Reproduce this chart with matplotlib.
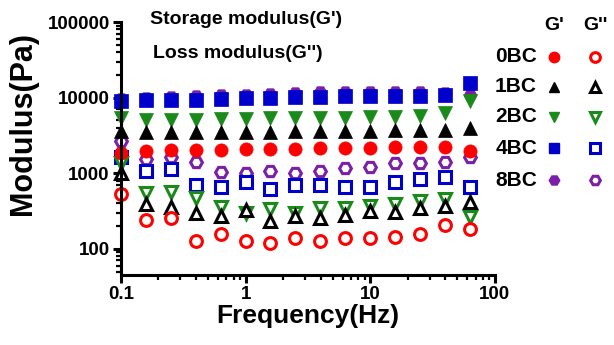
import matplotlib
matplotlib.use("Agg")
import matplotlib.pyplot as plt
from matplotlib.ticker import LogLocator, FixedLocator, NullFormatter, FixedFormatter

plt.rcParams["font.family"] = ["Liberation Sans", "DejaVu Sans"]
plt.rcParams["font.weight"] = "bold"

freq = [0.1, 0.158, 0.251, 0.398, 0.631, 1.0, 1.58, 2.51, 3.98, 6.31, 10.0, 15.8, 25.1, 39.8, 63.1]

samples = ["0BC", "1BC", "2BC", "4BC", "8BC"]
colors = {"0BC": "#ff0000", "1BC": "#000000", "2BC": "#1a8a1a", "4BC": "#0000cc", "8BC": "#7b1fa8"}
markers = {"0BC": "o", "1BC": "^", "2BC": "v", "4BC": "s", "8BC": "H"}

storage = {
    "0BC": [1870, 1990, 2000, 2000, 2050, 2080, 2100, 2100, 2150, 2150, 2180, 2200, 2250, 2250, 1990],
    "1BC": [3600, 3500, 3500, 3500, 3500, 3500, 3500, 3600, 3600, 3600, 3600, 3700, 3700, 3700, 4000],
    "2BC": [5400, 5100, 5100, 5100, 5200, 5200, 5300, 5400, 5400, 5400, 5500, 5600, 5800, 6300, 9100],
    "4BC": [9000, 9200, 9200, 9400, 9700, 9800, 10000, 10200, 10300, 10400, 10500, 10400, 10500, 10800, 15500],
    "8BC": [9500, 10000, 10200, 10400, 10800, 11000, 11300, 11500, 11700, 11800, 12000, 11800, 12000, 11500, 10800],
}
loss = {
    "0BC": [535, 240, 255, 128, 158, 125, 120, 140, 125, 140, 140, 145, 158, 208, 183],
    "1BC": [1000, 395, 360, 300, 275, 330, 235, 275, 255, 280, 320, 310, 350, 370, 420],
    "2BC": [1350, 552, 570, 474, 360, 300, 340, 300, 350, 350, 370, 395, 430, 460, 265],
    "4BC": [1650, 1080, 1150, 705, 663, 771, 624, 705, 705, 663, 663, 771, 845, 900, 663],
    "8BC": [2700, 1560, 1650, 1420, 1050, 1020, 1080, 1015, 1080, 1180, 1220, 1380, 1380, 1420, 1650],
}

fig = plt.figure(figsize=(6.14, 3.45), dpi=100)
ax = fig.add_axes([0.197, 0.203, 0.609, 0.733])

ms = 9.5
for s in ["8BC", "4BC", "2BC", "1BC", "0BC"]:
    c = colors[s]
    ax.plot(freq, storage[s], linestyle="none", marker=markers[s], ms=ms,
            color=c, markeredgecolor=c, markeredgewidth=0.5, clip_on=False)
    ax.plot(freq, loss[s], linestyle="none", marker=markers[s], ms=ms - 1,
            markerfacecolor="white", markeredgecolor=c, markeredgewidth=2.2, clip_on=False)

ax.set_xscale("log")
ax.set_yscale("log")
ax.set_xlim(0.1, 100)
ax.set_ylim(45, 100000)

for side in ["top", "right"]:
    ax.spines[side].set_visible(False)
for side in ["left", "bottom"]:
    ax.spines[side].set_linewidth(2.2)

ax.xaxis.set_major_locator(FixedLocator([0.1, 1, 10, 100]))
ax.xaxis.set_major_formatter(FixedFormatter(["0.1", "1", "10", "100"]))
ax.xaxis.set_minor_locator(LogLocator(base=10, subs=range(2, 10)))
ax.xaxis.set_minor_formatter(NullFormatter())
ax.yaxis.set_major_locator(FixedLocator([100, 1000, 10000, 100000]))
ax.yaxis.set_major_formatter(FixedFormatter(["100", "1000", "10000", "100000"]))
ax.yaxis.set_minor_locator(LogLocator(base=10, subs=range(2, 10)))
ax.yaxis.set_minor_formatter(NullFormatter())
ax.tick_params(which="major", direction="out", length=6, width=2.2, labelsize=13.5, pad=2)
ax.tick_params(which="minor", direction="out", length=3.5, width=1.6)
for lab in ax.get_xticklabels() + ax.get_yticklabels():
    lab.set_fontweight("bold")

ax.set_xlabel("Frequency(Hz)", fontsize=19, fontweight="bold")
ax.xaxis.set_label_coords(0.5, -0.115)
ax.set_ylabel("Modulus(Pa)", fontsize=22, fontweight="bold", va="center", ha="center")
ax.yaxis.set_label_coords(-0.262, 0.60)

# overlay in figure pixels for the annotations and the legend block
lax = fig.add_axes([0, 0, 1, 1])
lax.set_xlim(0, 614)
lax.set_ylim(345, 0)
lax.axis("off")

lax.text(150, 20, "Storage modulus(G')", fontsize=14, fontweight="bold", va="center", ha="left")
lax.text(153, 54, "Loss modulus(G'')", fontsize=14, fontweight="bold", va="center", ha="left")

col_gp, col_gpp = 554, 595
row_y = [57, 87, 117, 148, 180]
lax.text(col_gp, 25, "G'", fontsize=14, fontweight="bold", ha="center", va="center")
lax.text(col_gpp, 25, "G''", fontsize=14, fontweight="bold", ha="center", va="center")
for s, ry in zip(samples, row_y):
    c = colors[s]
    lax.text(537, ry, s, fontsize=15, fontweight="bold", ha="right", va="center")
    lax.plot([col_gp], [ry], linestyle="none", marker=markers[s], ms=7.5, color=c)
    lax.plot([col_gpp], [ry], linestyle="none", marker=markers[s], ms=7,
             markerfacecolor="white", markeredgecolor=c, markeredgewidth=2.2)

fig.savefig("out.png", dpi=100)
